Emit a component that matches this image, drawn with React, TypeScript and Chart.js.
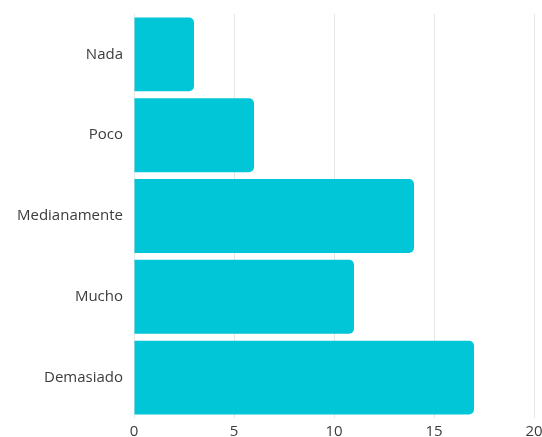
import React, { useEffect, useRef } from "react";
import { Chart, registerables } from "chart.js";

Chart.register(...registerables);

const categories = ["Nada", "Poco", "Medianamente", "Mucho", "Demasiado"];
const values = [3, 6, 14, 11, 17];
const xTicks = [0, 5, 10, 15, 20];

export default function App() {
  const ref = useRef<HTMLCanvasElement | null>(null);
  useEffect(() => {
    if (!ref.current) return;
    const chart = new Chart(ref.current, {
      type: "bar",
      data: {
        labels: categories,
        datasets: [
          {
            data: values,
            backgroundColor: "#00c6d8",
            borderRadius: 5,
            borderSkipped: "start",
            barPercentage: 0.914,
            categoryPercentage: 1,
          },
        ],
      },
      options: {
        indexAxis: "y",
        animation: false,
        responsive: false,
        maintainAspectRatio: false,
        layout: { padding: { top: 14, right: 8, bottom: 0, left: 0 } },
        plugins: { legend: { display: false }, tooltip: { enabled: false } },
        scales: {
          x: {
            min: 0,
            max: 20,
            afterBuildTicks: (axis: any) => {
              axis.ticks = xTicks.map((v) => ({ value: v }));
            },
            grid: { color: "#e6e6e6", drawTicks: false },
            border: { display: false },
            ticks: {
              color: "#3c3c3c",
              font: { family: "Open Sans", size: 15 },
              padding: 5,
              maxRotation: 0,
            },
            afterFit: (axis: any) => {
              axis.height = 19;
              axis.paddingLeft = 0;
              axis.paddingRight = 0;
            },
          },
          y: {
            grid: { display: false, drawTicks: false },
            border: { display: false },
            ticks: {
              color: "#3c3c3c",
              font: { family: "Open Sans", size: 15 },
              padding: 11,
            },
            afterFit: (axis: any) => {
              axis.width = 134;
              axis.paddingTop = 0;
              axis.paddingBottom = 0;
            },
          },
        },
      },
    });
    return () => chart.destroy();
  }, []);
  return (
    <div style={{ position: "fixed", left: 0, top: 0, width: 542, height: 437, background: "#fff", overflow: "hidden" }}>
      <canvas ref={ref} width={542} height={437} />
    </div>
  );
}
